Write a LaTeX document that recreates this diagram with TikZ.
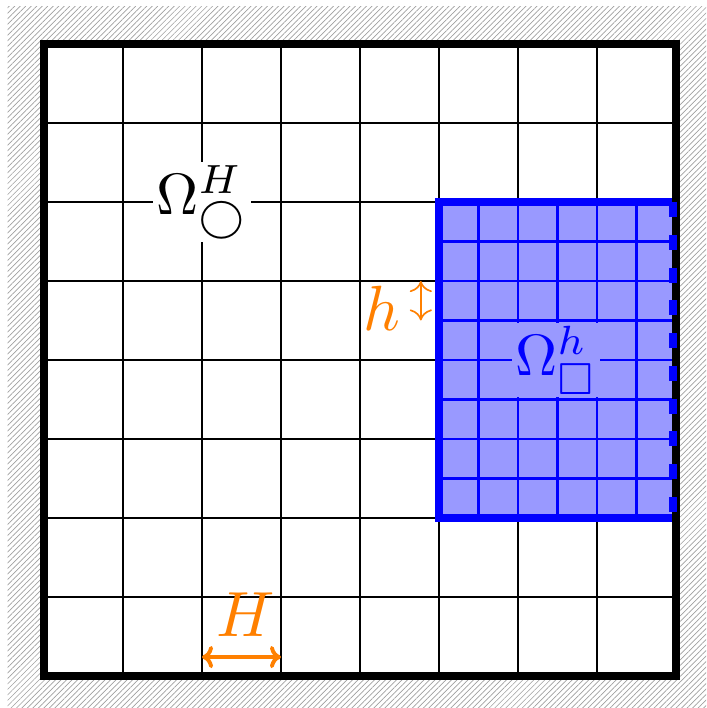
\documentclass[tikz,border=0pt]{standalone}
\usepackage{amsmath}
\usepackage{amssymb}
\usepackage{tikz}
\usetikzlibrary{patterns.meta}
\usetikzlibrary{arrows.meta}
\usetikzlibrary{positioning}

\begin{document}
\begin{tikzpicture}[
    coarse/.style={black, line width=0.7pt},
    fine/.style={blue, line width=0.8pt},
    wall/.style={pattern={Lines[angle=45, distance=1.4pt, line width=0.25pt]}, pattern color=gray!75},
    meshsize/.style={orange, {To[length=4pt, width=8pt]}-{To[length=4pt, width=8pt]}},
    domlabel/.style={inner sep=0.5pt, scale=2.1},
    sizelabel/.style={orange, inner sep=0pt, scale=2.3}
]
    \useasboundingbox (-0.557,-0.405) rectangle (8.38,8.557);

    \fill[wall] (-0.46,-0.405) rectangle (8.38,8.47);
    \fill[white] (0,0) rectangle (8,8);
    \draw[coarse] (0,0) grid (8,8);

    \fill[blue!40] (5,2) rectangle (8,6);
    \draw[fine, step=0.5] (5,2) grid (8,6);
    \draw[blue, line width=3pt] (7.96,2) -- (5,2) -- (5,6) -- (7.96,6);

    \draw[line width=3pt] (0,0) rectangle (8,8);
    \draw[blue, line width=3pt, dash pattern=on 5.4pt off 6.4pt] (7.96,6) -- (7.96,2);

    \node[domlabel, fill=white] (coarsedom) at (2,6) {$\Omega^{H}_{\bigcirc}$};
    \node[domlabel, fill=blue!40, text=blue] (finedom) at (6.48,4) {$\Omega^{h}_{\square}$};

    \coordinate (Hleft) at (2,0.24);
    \coordinate (Hright) at (3,0.24);
    \coordinate (htop) at (4.77,5);
    \coordinate (hbot) at (4.77,4.5);

    \draw[meshsize, line width=1.4pt] (Hleft) -- (Hright);
    \draw[meshsize, line width=0.6pt] (htop) -- (hbot);

    \node[sizelabel] (Hlabel) at (2.55,0.77) {$H$};
    \node[sizelabel] (hlabel) at (4.28,4.66) {$h$};

\end{tikzpicture}
\end{document}
